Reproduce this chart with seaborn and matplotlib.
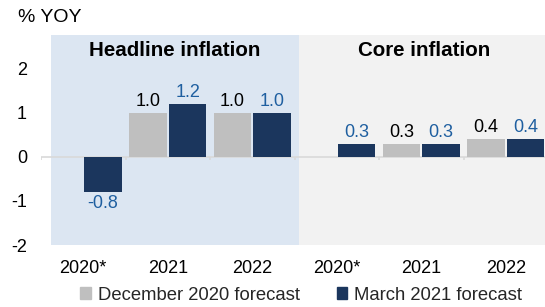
import numpy as np
import pandas as pd
import matplotlib
matplotlib.use("Agg")
import matplotlib.pyplot as plt
import seaborn as sns
from matplotlib.patches import Patch

# ---- data ----
categories = ["2020*", "2021", "2022", "2020*", "2021", "2022"]
panel_titles = ["Headline inflation", "Core inflation"]
series = ["December 2020 forecast", "March 2021 forecast"]
dec_2020 = [np.nan, 1.0, 1.0, np.nan, 0.3, 0.4]
mar_2021 = [-0.8, 1.2, 1.0, 0.3, 0.3, 0.4]
yticks = [-2, -1, 0, 1, 2]

# ---- style ----
GRAY = "#BFBFBF"
NAVY = "#1B365D"
LBL_BLUE = "#1F5FA0"
BG_BLUE = "#DCE6F2"
BG_GRAY = "#F2F2F2"
ZERO = "#D9D9D9"

sns.set_theme(style="white")
plt.rcParams["font.family"] = ["Liberation Sans", "DejaVu Sans"]
plt.rcParams["axes.unicode_minus"] = False

rows = []
for i, cat in enumerate(categories):
    for s, vals in zip(series, [dec_2020, mar_2021]):
        if not np.isnan(vals[i]):
            rows.append({"slot": i, "value": vals[i], "series": s})
df = pd.DataFrame(rows)

W, H = 545, 307
fig = plt.figure(figsize=(W / 100, H / 100), dpi=100)
ax = fig.add_axes([41 / W, 1 - 245 / H, 1 - 41 / W, (245 - 35) / H])

xmax = (W - 41) / 84.5 - 0.5
divider = 2.55
ax.axvspan(-0.38, divider, color=BG_BLUE, zorder=0, lw=0)
ax.axvspan(divider, xmax, color=BG_GRAY, zorder=0, lw=0)
ax.axhline(0, color=ZERO, lw=1.2, zorder=0.5)
ax.vlines(np.arange(-0.5, len(categories), 1.0), -0.07, 0, color=ZERO, lw=1.2, zorder=0.5)

sns.barplot(data=df, x="slot", y="value", hue="series", hue_order=series,
            order=list(range(len(categories))), palette=[GRAY, NAVY],
            width=0.94, gap=0.06, saturation=1, errorbar=None,
            legend=False, ax=ax, zorder=2, edgecolor="none")

for cont, col in zip(ax.containers, ["black", LBL_BLUE]):
    ax.bar_label(cont, fmt="%.1f", padding=2, color=col, fontsize=13)

ax.set_xlim(-0.5, xmax)
ax.set_ylim(-2, 2.76)
ax.set_xticks(range(len(categories)), categories)
ax.set_yticks(yticks)
ax.tick_params(axis="both", length=0, labelsize=13, colors="black")
ax.tick_params(axis="x", pad=11)
ax.tick_params(axis="y", pad=10)
ax.set_xlabel("")
ax.set_ylabel("")
ax.grid(False)
for sp in ax.spines.values():
    sp.set_visible(False)

ax.text((-0.38 + divider) / 2, 2.4, panel_titles[0], ha="center", va="center",
        fontweight="bold", fontsize=14.8, color="black")
ax.text((divider + xmax) / 2 + 0.03, 2.4, panel_titles[1], ha="center", va="center",
        fontweight="bold", fontsize=14.8, color="black")

fig.text(18 / W, 1 - 17 / H, "% YOY", fontsize=14, ha="left", va="center", color="black")

handles = [Patch(color=GRAY), Patch(color=NAVY)]
fig.legend(handles, series, loc="center", bbox_to_anchor=(0.553, 0.039), ncol=2,
           frameon=False, fontsize=13.3, handlelength=0.55, handleheight=0.55,
           handletextpad=0.4, columnspacing=2.0, borderpad=0)

fig.savefig("out.png", dpi=100)
